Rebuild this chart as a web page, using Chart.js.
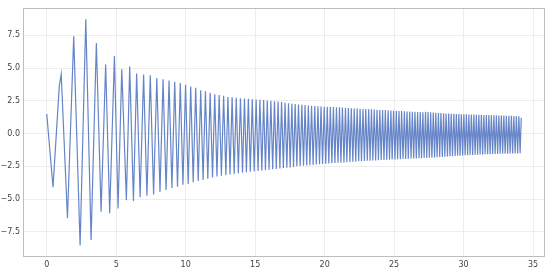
<!DOCTYPE html>
<html>
<head>
<meta charset="utf-8">
<script src="https://cdn.jsdelivr.net/npm/chart.js@4.4.1/dist/chart.umd.min.js"></script>
<style>
html,body{margin:0;padding:0;background:#fff;}
#wrap{width:550px;height:273px;position:relative;}
</style>
</head>
<body>
<div id="wrap"><canvas id="c" width="550" height="273"></canvas></div>
<script>
const xValues = [0.00,0.45,0.90,1.04,1.49,1.94,2.40,2.81,3.19,3.57,3.91,4.24,4.53,4.87,5.13,5.40,5.73,5.97,6.24,6.47,
6.72,6.97,7.21,7.45,7.69,7.92,8.15,8.37,8.59,8.80,9.01,9.21,9.41,9.61,9.80,9.99,10.18,10.36,10.54,10.72,
10.90,11.08,11.25,11.42,11.59,11.76,11.93,12.09,12.25,12.41,12.57,12.73,12.89,13.04,13.19,13.34,13.49,13.64,13.79,13.94,
14.09,14.23,14.37,14.51,14.65,14.79,14.93,15.07,15.21,15.34,15.48,15.61,15.74,15.87,16.00,16.13,16.26,16.39,16.52,16.65,
16.78,16.90,17.03,17.15,17.28,17.40,17.52,17.64,17.76,17.88,18.00,18.12,18.24,18.36,18.48,18.59,18.71,18.83,18.94,19.06,
19.17,19.29,19.40,19.52,19.63,19.74,19.85,19.97,20.08,20.19,20.30,20.41,20.52,20.63,20.74,20.85,20.96,21.07,21.17,21.28,
21.39,21.50,21.60,21.71,21.82,21.92,22.03,22.13,22.24,22.34,22.45,22.55,22.65,22.76,22.86,22.96,23.07,23.17,23.27,23.37,
23.47,23.57,23.67,23.77,23.87,23.97,24.07,24.17,24.27,24.37,24.47,24.57,24.67,24.77,24.86,24.96,25.06,25.16,25.25,25.35,
25.45,25.54,25.64,25.74,25.83,25.93,26.02,26.12,26.22,26.31,26.41,26.50,26.60,26.69,26.79,26.88,26.97,27.07,27.16,27.26,
27.35,27.44,27.54,27.63,27.72,27.82,27.91,28.00,28.09,28.19,28.28,28.37,28.47,28.56,28.65,28.74,28.84,28.93,29.02,29.11,
29.20,29.30,29.39,29.48,29.57,29.66,29.75,29.84,29.93,30.02,30.11,30.20,30.29,30.38,30.47,30.56,30.65,30.74,30.83,30.92,
31.01,31.10,31.19,31.28,31.37,31.46,31.55,31.64,31.73,31.82,31.91,32.00,32.09,32.18,32.27,32.36,32.45,32.54,32.63,32.72,
32.81,32.90,32.99,33.08,33.17,33.26,33.35,33.44,33.53,33.62,33.71,33.80,33.89,33.98,34.07,34.15];

const yValues = [1.5,-4.1,3.6,4.53,-6.46,7.42,-8.55,8.73,-8.12,6.92,-5.96,5.28,-6.08,5.92,-5.71,4.91,-5.08,5.11,-5.15,4.58,
-4.85,4.5,-4.75,4.45,-4.65,4.25,-4.45,4.15,-4.3,4.05,-4.15,3.95,-4.05,3.85,-3.9,3.72,-3.85,3.6,-3.72,3.5,
-3.62,3.3,-3.55,3.22,-3.45,3.12,-3.35,3.0,-3.28,2.95,-3.22,2.88,-3.18,2.8,-3.12,2.78,-3.08,2.74,-3.02,2.7,
-2.98,2.68,-2.95,2.66,-2.92,2.62,-2.88,2.6,-2.85,2.58,-2.82,2.56,-2.78,2.52,-2.75,2.5,-2.72,2.47,-2.7,2.44,
-2.66,2.4,-2.63,2.35,-2.6,2.32,-2.58,2.28,-2.55,2.25,-2.5,2.22,-2.48,2.2,-2.46,2.18,-2.43,2.15,-2.41,2.12,
-2.39,2.1,-2.36,2.09,-2.34,2.07,-2.32,2.05,-2.3,2.05,-2.29,2.03,-2.27,2.02,-2.25,2.01,-2.23,2.0,-2.22,1.99,
-2.21,1.97,-2.19,1.96,-2.17,1.93,-2.15,1.92,-2.14,1.91,-2.12,1.9,-2.11,1.88,-2.09,1.87,-2.08,1.86,-2.07,1.85,
-2.06,1.84,-2.05,1.82,-2.04,1.8,-2.02,1.8,-2.01,1.79,-2.0,1.78,-1.99,1.76,-1.98,1.75,-1.97,1.74,-1.96,1.73,
-1.95,1.72,-1.94,1.7,-1.93,1.69,-1.92,1.68,-1.91,1.67,-1.9,1.66,-1.9,1.65,-1.89,1.64,-1.88,1.63,-1.87,1.66,
-1.86,1.65,-1.85,1.63,-1.84,1.6,-1.82,1.58,-1.8,1.57,-1.79,1.56,-1.78,1.55,-1.76,1.54,-1.75,1.53,-1.73,1.52,
-1.72,1.51,-1.71,1.5,-1.7,1.49,-1.69,1.48,-1.67,1.48,-1.66,1.47,-1.65,1.46,-1.64,1.45,-1.63,1.45,-1.62,1.44,
-1.61,1.43,-1.6,1.43,-1.59,1.42,-1.58,1.41,-1.58,1.41,-1.57,1.4,-1.56,1.4,-1.56,1.39,-1.55,1.38,-1.54,1.38,
-1.54,1.37,-1.53,1.36,-1.53,1.36,-1.52,1.35,-1.52,1.34,-1.51,1.33,-1.51,1.33,-1.5,1.2];

const xTicks = [0,5,10,15,20,25,30,35];
const xTickLabels = ['0','5','10','15','20','25','30','35'];
const yTicks = [-7.5,-5,-2.5,0,2.5,5,7.5];
const yTickLabels = ['\u22127.5','\u22125.0','\u22122.5','0.0','2.5','5.0','7.5'];

const points = xValues.map((x,i)=>({x:x,y:yValues[i]}));

const frame = {
  id:'frame',
  afterDatasetsDraw(chart){
    const a = chart.chartArea, ctx = chart.ctx;
    ctx.save();
    ctx.strokeStyle = '#bdbdbd';
    ctx.lineWidth = 1;
    ctx.strokeRect(Math.round(a.left)+0.5, Math.round(a.top)+0.5, Math.round(a.right-a.left)-1, Math.round(a.bottom-a.top)-1);
    ctx.restore();
  }
};

new Chart(document.getElementById('c'), {
  type:'line',
  data:{datasets:[{
    data:points,
    borderColor:'#6585c8',
    borderWidth:1.2,
    pointRadius:0,
    tension:0,
    fill:false
  }]},
  options:{
    responsive:false,
    animation:false,
    devicePixelRatio:1,
    layout:{padding:{left:0,right:5,top:4,bottom:0}},
    plugins:{legend:{display:false},tooltip:{enabled:false}},
    scales:{
      x:{
        type:'linear',
        min:-1.71, max:35.86,
        afterFit(s){ s.height = 16; },
        afterBuildTicks(s){ s.ticks = xTicks.map(v=>({value:v})); },
        grid:{color:'#ededed',lineWidth:1,drawTicks:false},
        border:{display:false},
        ticks:{
          padding:3,
          color:'#444',
          font:{family:'DejaVu Sans',size:8},
          maxRotation:0,
          autoSkip:false,
          callback(v){ const i = xTicks.indexOf(v); return i>=0 ? xTickLabels[i] : ''; }
        }
      },
      y:{
        type:'linear',
        min:-9.42, max:9.6,
        afterFit(s){ s.width = 23; },
        afterBuildTicks(s){ s.ticks = yTicks.map(v=>({value:v})); },
        grid:{color:'#ededed',lineWidth:1,drawTicks:false},
        border:{display:false},
        ticks:{
          padding:3,
          color:'#444',
          font:{family:'DejaVu Sans',size:8},
          autoSkip:false,
          callback(v){ const i = yTicks.indexOf(v); return i>=0 ? yTickLabels[i] : ''; }
        }
      }
    }
  },
  plugins:[frame]
});
</script>
</body>
</html>
